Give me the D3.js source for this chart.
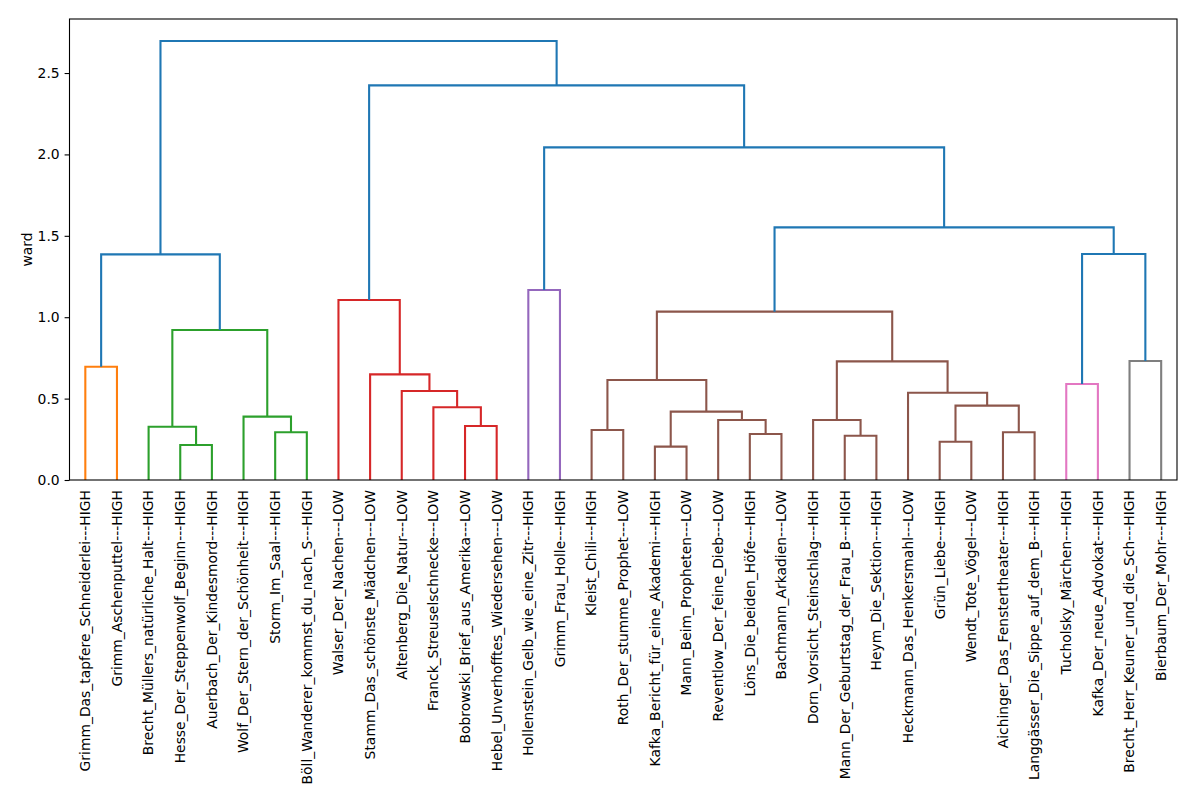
<!DOCTYPE html>
<html>
<head>
<meta charset="utf-8">
<script src="https://cdn.jsdelivr.net/npm/d3@7"></script>
<style>
  body { margin: 0; background: #fff; }
  text { font-family: "DejaVu Sans", sans-serif; }
</style>
</head>
<body>
<div id="chart"></div>
<script>
// leaf labels, in the order they appear along the x axis
var leafLabels = [
    "Grimm_Das_tapfere_Schneiderlei---HIGH",
    "Grimm_Aschenputtel---HIGH",
    "Brecht_Müllers_natürliche_Halt---HIGH",
    "Hesse_Der_Steppenwolf_Beginn---HIGH",
    "Auerbach_Der_Kindesmord---HIGH",
    "Wolf_Der_Stern_der_Schönheit---HIGH",
    "Storm_Im_Saal---HIGH",
    "Böll_Wanderer_kommst_du_nach_S---HIGH",
    "Walser_Der_Nachen---LOW",
    "Stamm_Das_schönste_Mädchen---LOW",
    "Altenberg_Die_Natur---LOW",
    "Franck_Streuselschnecke---LOW",
    "Bobrowski_Brief_aus_Amerika---LOW",
    "Hebel_Unverhofftes_Wiedersehen---LOW",
    "Hollenstein_Gelb_wie_eine_Zitr---HIGH",
    "Grimm_Frau_Holle---HIGH",
    "Kleist_Chili---HIGH",
    "Roth_Der_stumme_Prophet---LOW",
    "Kafka_Bericht_für_eine_Akademi---HIGH",
    "Mann_Beim_Propheten---LOW",
    "Reventlow_Der_feine_Dieb---LOW",
    "Löns_Die_beiden_Höfe---HIGH",
    "Bachmann_Arkadien---LOW",
    "Dorn_Vorsicht_Steinschlag---HIGH",
    "Mann_Der_Geburtstag_der_Frau_B---HIGH",
    "Heym_Die_Sektion---HIGH",
    "Heckmann_Das_Henkersmahl---LOW",
    "Grün_Liebe---HIGH",
    "Wendt_Tote_Vögel---LOW",
    "Aichinger_Das_Fenstertheater---HIGH",
    "Langgässer_Die_Sippe_auf_dem_B---HIGH",
    "Tucholsky_Märchen---HIGH",
    "Kafka_Der_neue_Advokat---HIGH",
    "Brecht_Herr_Keuner_und_die_Sch---HIGH",
    "Bierbaum_Der_Mohr---HIGH"
];

// linkage rows (scipy style): ids < n are leaves, id n+k is merge k
var mergeLeft   = [0, 3, 2, 6, 5, 37, 35, 12, 11, 10, 9, 8, 14, 16, 18, 21, 20, 49, 48, 24, 23, 27, 29, 56, 26, 55, 53, 31, 33, 62, 61, 47, 46, 41];
var mergeRight  = [1, 4, 36, 7, 38, 39, 40, 13, 42, 43, 44, 45, 15, 17, 19, 22, 50, 51, 52, 25, 54, 28, 30, 57, 58, 59, 60, 32, 34, 63, 64, 65, 66, 67];
var mergeHeight = [0.696, 0.215, 0.327, 0.293, 0.389, 0.921, 1.386,
                   0.332, 0.447, 0.547, 0.649, 1.106, 1.167,
                   0.307, 0.205, 0.283, 0.369, 0.420, 0.614,
                   0.272, 0.369, 0.235, 0.293, 0.457, 0.536, 0.729, 1.034,
                   0.590, 0.731, 1.388, 1.552, 2.043, 2.424, 2.697];
// cluster of each link (0 = above threshold)
var mergeCluster = [1, 2, 2, 2, 2, 2, 0,
                    3, 3, 3, 3, 3, 4,
                    5, 5, 5, 5, 5, 5,
                    5, 5, 5, 5, 5, 5, 5, 5,
                    6, 7, 0, 0, 0, 0, 0];

var yTicks = [0.0, 0.5, 1.0, 1.5, 2.0, 2.5];
var yLabel = "ward";

var palette = ["#1f77b4", "#ff7f0e", "#2ca02c", "#d62728", "#9467bd",
               "#8c564b", "#e377c2", "#7f7f7f"];

var margin = {top: 19, right: 23, bottom: 321, left: 69.5},
    width = 1200 - margin.left - margin.right,
    height = 801 - margin.top - margin.bottom;

var n = leafLabels.length;

var x = d3.scaleLinear()
    .domain([0, 10 * n])
    .range([0, width]);
var y = d3.scaleLinear()
    .domain([0, d3.max(mergeHeight) * 1.05])
    .range([height, 0]);

// positions of every node (leaf or merge) in data units
var nodeX = [], nodeH = [];
leafLabels.forEach(function (d, i) {
    nodeX.push(5 + 10 * i);
    nodeH.push(0);
});
mergeHeight.forEach(function (h, k) {
    nodeX.push((nodeX[mergeLeft[k]] + nodeX[mergeRight[k]]) / 2);
    nodeH.push(h);
});

var svg = d3.select("#chart").append("svg")
    .attr("width", 1200)
    .attr("height", 801)
    .append("g")
    .attr("transform", "translate(" + margin.left + "," + margin.top + ")");

// the links
svg.selectAll("path.link")
    .data(mergeHeight)
    .enter().append("path")
    .attr("class", "link")
    .attr("fill", "none")
    .attr("stroke", function (d, k) { return palette[mergeCluster[k]]; })
    .attr("stroke-width", 2.1)
    .attr("d", function (h, k) {
        var a = mergeLeft[k], b = mergeRight[k];
        return "M" + x(nodeX[a]) + "," + y(nodeH[a]) +
               "V" + y(h) +
               "H" + x(nodeX[b]) +
               "V" + y(nodeH[b]);
    });

// y axis
var yAxis = svg.append("g")
    .call(d3.axisLeft(y).tickValues(yTicks).tickFormat(d3.format(".1f"))
        .tickSize(4.9).tickPadding(4.9));
yAxis.select(".domain").remove();
yAxis.selectAll(".tick line").attr("stroke-width", 1.1);
yAxis.selectAll(".tick text").style("font-size", "13.9px").attr("fill", "#000");

// leaf labels, rotated
svg.selectAll("text.leaf")
    .data(leafLabels)
    .enter().append("text")
    .attr("class", "leaf")
    .attr("transform", function (d, i) {
        return "translate(" + x(nodeX[i]) + "," + (height + 10) + ") rotate(-90)";
    })
    .attr("dy", "0.35em")
    .style("text-anchor", "end")
    .style("font-size", "13.9px")
    .text(function (d) { return d; });

// frame
svg.append("rect")
    .attr("width", width)
    .attr("height", height)
    .attr("fill", "none")
    .attr("stroke", "#000")
    .attr("stroke-width", 1.1);

// y label
svg.append("text")
    .attr("transform", "rotate(-90)")
    .attr("x", -height / 2)
    .attr("y", -margin.left + 32)
    .style("text-anchor", "middle")
    .style("font-size", "13.9px")
    .text(yLabel);
</script>
</body>
</html>
